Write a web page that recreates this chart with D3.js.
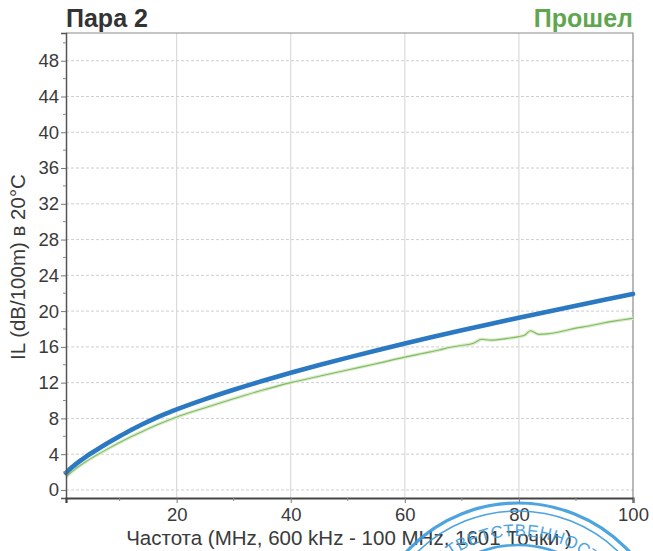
<!DOCTYPE html>
<html>
<head>
<meta charset="utf-8">
<script src="https://cdn.jsdelivr.net/npm/d3@7/dist/d3.min.js"></script>
<style>
  html, body { margin: 0; padding: 0; background: #fff; }
  svg { display: block; font-family: "Liberation Sans", Arial, sans-serif; }
</style>
</head>
<body>
<svg id="chart" width="653" height="551"></svg>
<script>
// Insertion loss of pair 2, 600 kHz – 100 MHz
const pairTitle = "Пара 2";
const verdict = "Прошел";
const yTitle = "IL (dB/100m) в 20°C";
const xTitle = "Частота (MHz, 600 kHz - 100 MHz, 1601 Точки )";
const sealText = "ОТВЕТСТВЕННОСТЬЮ";

const xTicks = [20, 40, 60, 80, 100];
const xMinorTicks = [10, 30, 50, 70, 90];
const yTicks = [0, 4, 8, 12, 16, 20, 24, 28, 32, 36, 40, 44, 48];
const yMinorTicks = [2, 6, 10, 14, 18, 22, 26, 30, 34, 38, 42, 46, 50];

// Measured insertion loss (blue trace)
const measuredFreq = [0.6, 1, 1.5, 2, 3, 4, 5, 6, 8, 10, 12, 14, 16, 18, 20, 25, 30, 35, 40, 45, 50,
                      55, 60, 65, 70, 75, 80, 85, 90, 95, 100];
const measuredIL   = [1.9, 2.15, 2.45, 2.72, 3.22, 3.68, 4.1, 4.5, 5.27, 6.0, 6.7, 7.35, 7.95, 8.5, 9.0, 10.15, 11.2, 12.18, 13.1, 13.97, 14.8,
                      15.6, 16.37, 17.12, 17.85, 18.56, 19.26, 19.94, 20.61, 21.27, 21.92];

// Second trace (green)
const refFreq = [0.6, 1, 1.5, 2, 3, 4, 5, 6, 8, 10, 12, 14, 16, 18, 20, 25, 30, 35, 40, 45, 50,
                 55, 60, 63, 66, 68, 70, 72, 73.5, 75, 78, 80, 81, 82, 83.5, 85, 88, 90, 92, 95, 98, 100];
const refIL   = [1.45, 1.68, 1.97, 2.22, 2.7, 3.13, 3.53, 3.9, 4.62, 5.3, 5.95, 6.55, 7.12, 7.65, 8.15, 9.2, 10.2, 11.15, 12.0, 12.72, 13.42,
                 14.12, 14.85, 15.25, 15.65, 15.95, 16.15, 16.4, 16.85, 16.75, 16.95, 17.15, 17.3, 17.8, 17.4, 17.45, 17.8, 18.1, 18.3, 18.7, 19.0, 19.2];

const svg = d3.select("#chart");
const W = 653, H = 551;
const m = { left: 66, right: 20, top: 33, bottom: 53 };
const plotW = W - m.left - m.right;
const plotH = H - m.top - m.bottom;

const x = d3.scaleLinear().domain([0.6, 100]).range([m.left, m.left + plotW]);
const y = d3.scaleLinear().domain([-0.9, 51.1]).range([m.top + plotH, m.top]);

const textColor = "#3a3a3a";

// gridlines
const grid = svg.append("g");
grid.selectAll("line.h").data(yTicks).join("line")
  .attr("x1", m.left).attr("x2", m.left + plotW)
  .attr("y1", d => y(d)).attr("y2", d => y(d))
  .attr("stroke", "#cfcfcf").attr("stroke-width", 1).attr("stroke-dasharray", "3,2");
grid.selectAll("line.v").data(xTicks.filter(d => d < 100)).join("line")
  .attr("y1", m.top).attr("y2", m.top + plotH)
  .attr("x1", d => x(d)).attr("x2", d => x(d))
  .attr("stroke", "#d4d4d4").attr("stroke-width", 1);

// plot frame (top and right)
svg.append("path")
  .attr("d", `M${m.left},${m.top}H${m.left + plotW}V${m.top + plotH}`)
  .attr("fill", "none").attr("stroke", "#8a8a8a").attr("stroke-width", 1.2);

// traces
const line = d3.line().x(d => x(d[0])).y(d => y(d[1])).curve(d3.curveMonotoneX);
const refData = d3.zip(refFreq, refIL);
const measData = d3.zip(measuredFreq, measuredIL);

svg.append("path").datum(refData).attr("d", line)
  .attr("fill", "none").attr("stroke", "#dcebc9").attr("stroke-width", 3.4);
svg.append("path").datum(refData).attr("d", line)
  .attr("fill", "none").attr("stroke", "#7dbd68").attr("stroke-width", 1.1);
svg.append("path").datum(measData).attr("d", line)
  .attr("fill", "none").attr("stroke", "#2b79c3").attr("stroke-width", 4.6)
  .attr("stroke-linecap", "round");

// y axis
const yAxis = d3.axisLeft(y).tickValues(yTicks).tickSize(5).tickPadding(2).tickFormat(d3.format("d"));
const gy = svg.append("g").attr("transform", `translate(${m.left},0)`).call(yAxis);
gy.select(".domain").attr("stroke", "#555").attr("stroke-width", 1.5);
gy.selectAll(".tick line").attr("stroke", "#777");
gy.selectAll(".tick text").attr("fill", textColor).attr("font-size", 18.5)
  .attr("font-family", "Liberation Sans, Arial, sans-serif");
gy.append("g").selectAll("line").data(yMinorTicks).join("line")
  .attr("x1", -3).attr("x2", 0).attr("y1", d => y(d)).attr("y2", d => y(d))
  .attr("stroke", "#888");

// x axis
const xAxis = d3.axisBottom(x).tickValues(xTicks).tickSize(5).tickPadding(5).tickFormat(d3.format("d"));
const gx = svg.append("g").attr("transform", `translate(0,${m.top + plotH})`).call(xAxis);
gx.select(".domain").attr("stroke", "#444").attr("stroke-width", 2.2);
gx.selectAll(".tick line").attr("stroke", "#777");
gx.selectAll(".tick text").attr("fill", textColor).attr("font-size", 18.5)
  .attr("font-family", "Liberation Sans, Arial, sans-serif");
gx.append("g").selectAll("line").data(xMinorTicks).join("line")
  .attr("y1", 0).attr("y2", 3).attr("x1", d => x(d)).attr("x2", d => x(d))
  .attr("stroke", "#888");

// titles
svg.append("text").attr("x", m.left).attr("y", 27)
  .attr("font-size", 25).attr("font-weight", "bold").attr("fill", "#333")
  .text(pairTitle);
svg.append("text").attr("x", m.left + plotW).attr("y", 27).attr("text-anchor", "end")
  .attr("font-size", 25).attr("font-weight", "bold").attr("fill", "#5fa64f")
  .text(verdict);
svg.append("text")
  .attr("transform", "translate(25,267) rotate(-90)")
  .attr("text-anchor", "middle").attr("font-size", 20.5).attr("fill", textColor)
  .text(yTitle);
svg.append("text").attr("x", 349).attr("y", 545).attr("text-anchor", "middle")
  .attr("font-size", 20.5).attr("fill", textColor)
  .text(xTitle);

// company seal overlapping the lower edge
const sealColor = "#3a9bdc";
const seal = svg.append("g").attr("transform", "translate(518,655)")
  .attr("fill", "none").attr("stroke", sealColor).attr("opacity", 0.9);
seal.append("circle").attr("r", 152).attr("stroke-width", 3.2);
seal.append("circle").attr("r", 144).attr("stroke-width", 1.6);
seal.append("circle").attr("r", 110).attr("stroke-width", 2.6);
svg.append("defs").append("path").attr("id", "sealArc")
  .attr("d", "M" + (518 - 119) + ",655 A119,119 0 0,1 " + (518 + 119) + ",655");
svg.append("text").attr("font-size", 17).attr("fill", sealColor).attr("opacity", 0.9)
  .attr("letter-spacing", 0.5)
  .append("textPath").attr("href", "#sealArc").attr("startOffset", 200).attr("text-anchor", "middle")
  .text(sealText);
</script>
</body>
</html>
